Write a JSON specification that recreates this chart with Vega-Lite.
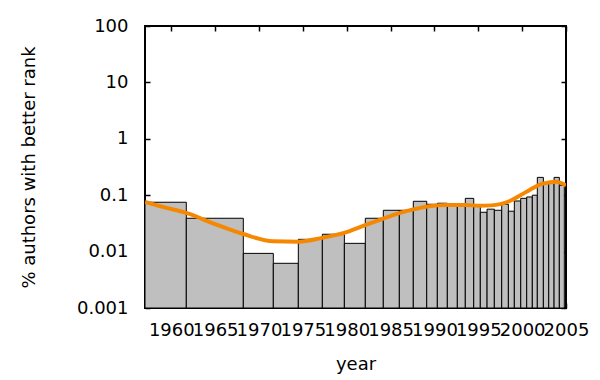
{
  "$schema": "https://vega.github.io/schema/vega-lite/v6.json",
  "width": 421,
  "height": 282,
  "autosize": {"type": "none"},
  "padding": {"left": 145, "top": 26, "right": 34, "bottom": 72},
  "background": "white",
  "config": {
    "font": "DejaVu Sans",
    "view": {"stroke": "black", "strokeWidth": 2},
    "axis": {
      "labelFont": "DejaVu Sans",
      "titleFont": "DejaVu Sans",
      "labelFontSize": 18,
      "titleFontSize": 18,
      "labelColor": "black",
      "titleColor": "black",
      "titleFontWeight": "normal",
      "grid": false,
      "domain": false,
      "tickColor": "black",
      "tickWidth": 1.5,
      "tickSize": -5
    }
  },
  "datasets": {
    "bars": [
      {"start": 1957.0, "end": 1961.71, "pct": 0.075},
      {"start": 1961.71, "end": 1968.21, "pct": 0.039},
      {"start": 1968.21, "end": 1971.63, "pct": 0.0093},
      {"start": 1971.63, "end": 1974.48, "pct": 0.0062},
      {"start": 1974.48, "end": 1977.22, "pct": 0.0165},
      {"start": 1977.22, "end": 1979.73, "pct": 0.0203},
      {"start": 1979.73, "end": 1982.12, "pct": 0.014},
      {"start": 1982.12, "end": 1984.17, "pct": 0.039},
      {"start": 1984.17, "end": 1986.0, "pct": 0.054},
      {"start": 1986.0, "end": 1987.59, "pct": 0.054},
      {"start": 1987.59, "end": 1989.12, "pct": 0.078},
      {"start": 1989.12, "end": 1990.33, "pct": 0.069},
      {"start": 1990.33, "end": 1991.47, "pct": 0.072},
      {"start": 1991.47, "end": 1992.61, "pct": 0.067},
      {"start": 1992.61, "end": 1993.52, "pct": 0.067},
      {"start": 1993.52, "end": 1994.48, "pct": 0.088},
      {"start": 1994.48, "end": 1995.23, "pct": 0.063},
      {"start": 1995.23, "end": 1996.0, "pct": 0.0498},
      {"start": 1996.0, "end": 1996.83, "pct": 0.0565},
      {"start": 1996.83, "end": 1997.67, "pct": 0.054},
      {"start": 1997.67, "end": 1998.43, "pct": 0.069},
      {"start": 1998.43, "end": 1999.11, "pct": 0.052},
      {"start": 1999.11, "end": 1999.84, "pct": 0.079},
      {"start": 1999.84, "end": 2000.52, "pct": 0.088},
      {"start": 2000.52, "end": 2001.16, "pct": 0.093},
      {"start": 2001.16, "end": 2001.73, "pct": 0.1},
      {"start": 2001.73, "end": 2002.42, "pct": 0.207},
      {"start": 2002.42, "end": 2003.03, "pct": 0.165},
      {"start": 2003.03, "end": 2003.64, "pct": 0.165},
      {"start": 2003.64, "end": 2004.24, "pct": 0.207},
      {"start": 2004.24, "end": 2004.81, "pct": 0.15}
    ],
    "curve": [
      {"year": 1957.0, "pct": 0.076},
      {"year": 1959.0, "pct": 0.062},
      {"year": 1961.7, "pct": 0.0485},
      {"year": 1965.0, "pct": 0.0307},
      {"year": 1968.2, "pct": 0.0205},
      {"year": 1971.6, "pct": 0.0152},
      {"year": 1974.5, "pct": 0.015},
      {"year": 1977.2, "pct": 0.0175},
      {"year": 1979.7, "pct": 0.0215},
      {"year": 1982.1, "pct": 0.0295},
      {"year": 1984.1, "pct": 0.038},
      {"year": 1986.0, "pct": 0.048},
      {"year": 1987.6, "pct": 0.056},
      {"year": 1989.2, "pct": 0.063},
      {"year": 1991.4, "pct": 0.067},
      {"year": 1993.5, "pct": 0.067},
      {"year": 1995.2, "pct": 0.065},
      {"year": 1996.5, "pct": 0.066},
      {"year": 1997.5, "pct": 0.0695},
      {"year": 1998.6, "pct": 0.079},
      {"year": 1999.8, "pct": 0.0995},
      {"year": 2000.9, "pct": 0.125},
      {"year": 2002.0, "pct": 0.154},
      {"year": 2003.2, "pct": 0.17},
      {"year": 2003.9, "pct": 0.174},
      {"year": 2004.7, "pct": 0.158},
      {"year": 2005.0, "pct": 0.148}
    ]
  },
  "resolve": {"axis": {"x": "independent", "y": "independent"}},
  "layer": [
    {
      "data": {"name": "bars"},
      "mark": {"type": "rect", "fill": "#bfbfbf", "stroke": "black", "strokeWidth": 1},
      "encoding": {
        "x": {
          "field": "start", "type": "quantitative",
          "scale": {"domain": [1957, 2005], "nice": false, "zero": false},
          "axis": {"orient": "bottom", "title": "year", "values": [1960, 1965, 1970, 1975, 1980, 1985, 1990, 1995, 2000, 2005], "format": "d", "labelPadding": 18, "titlePadding": 16, "labelFlush": false, "labelOverlap": false}
        },
        "x2": {"field": "end"},
        "y": {
          "field": "pct", "type": "quantitative",
          "scale": {"type": "log", "domain": [0.001, 100], "nice": false},
          "axis": {"orient": "left", "title": "% authors with better rank", "values": [0.001, 0.01, 0.1, 1, 10, 100], "labelExpr": "'' + datum.value", "labelPadding": 22, "titlePadding": 38, "labelOverlap": false}
        },
        "y2": {"datum": 0.001}
      }
    },
    {
      "data": {"name": "curve"},
      "mark": {"type": "line", "color": "#f58800", "strokeWidth": 4, "interpolate": "monotone", "clip": true},
      "encoding": {
        "x": {
          "field": "year", "type": "quantitative",
          "axis": {"orient": "top", "title": null, "labels": false, "values": [1960, 1965, 1970, 1975, 1980, 1985, 1990, 1995, 2000, 2005]}
        },
        "y": {
          "field": "pct", "type": "quantitative",
          "axis": {"orient": "right", "title": null, "labels": false, "values": [0.001, 0.01, 0.1, 1, 10, 100]}
        }
      }
    }
  ]
}
